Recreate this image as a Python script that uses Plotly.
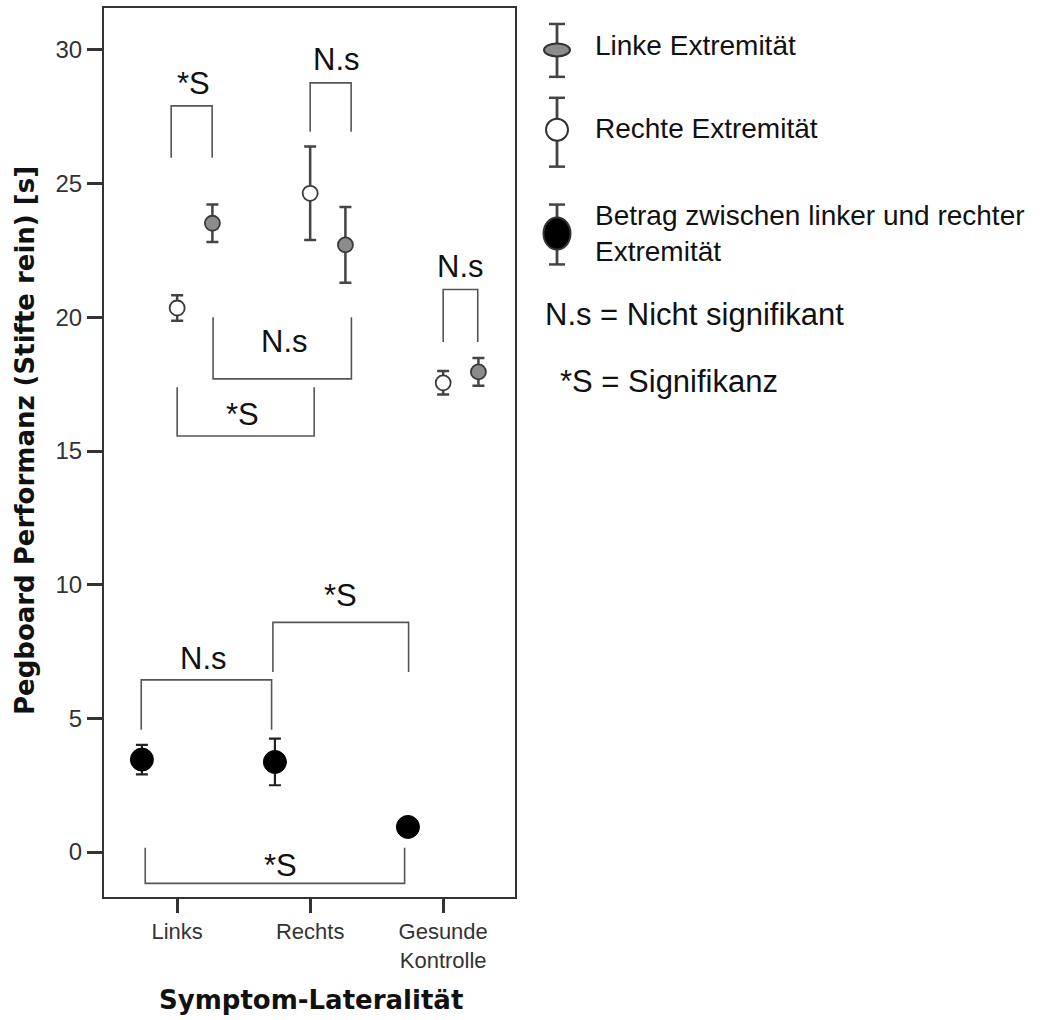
import plotly.graph_objects as go

# ---------------- data ----------------
categories = ["Links", "Rechts", "Gesunde<br>Kontrolle"]
cat_pos = [0, 1, 2]

series_names = ["Linke Extremität", "Rechte Extremität",
                "Betrag zwischen linker und rechter<br>Extremität"]

left_mean = [23.52, 22.71, 17.96]      # Linke Extremität (grey)
left_err = [0.70, 1.42, 0.52]
right_mean = [20.35, 24.64, 17.55]     # Rechte Extremität (white)
right_err = [0.48, 1.75, 0.44]
diff_mean = [3.46, 3.37, 0.94]         # Betrag (black)
diff_err = [0.55, 0.87, 0.15]

y_ticks = [0, 5, 10, 15, 20, 25, 30]

# significance brackets: x0, x1, bar y, leg end y, label, label x, label y
brackets = [
    (-0.045, 0.263, 27.91, 25.97, "*S", 0.12, 28.73),
    (1.0, 1.308, 28.77, 26.94, "N.s", 1.195, 29.66),
    (2.0, 2.26, 21.04, 19.08, "N.s", 2.13, 21.9),
    (0.27, 1.31, 17.7, 20.0, "N.s", 0.81, 19.1),
    (0.0, 1.03, 15.56, 17.39, "*S", 0.49, 16.38),
    (0.72, 1.74, 8.59, 6.74, "*S", 1.23, 9.59),
    (-0.27, 0.71, 6.44, 4.58, "N.s", 0.2, 7.24),
    (-0.24, 1.71, -1.17, 0.16, "*S", 0.78, -0.52),
]
legend_notes = ["N.s = Nicht signifikant", "*S = Signifikanz"]

OFFSET = 0.265
FONT = "Arial, Liberation Sans, sans-serif"
BOLD = "DejaVu Sans, Verdana, sans-serif"
EDGE = "#3a3a3a"
GREY = "#8c8c8c"

fig = go.Figure()

fig.add_trace(go.Scatter(
    x=[p - OFFSET for p in cat_pos], y=diff_mean, mode="markers",
    name=series_names[2],
    marker=dict(size=23, color="black", line=dict(color="black", width=1)),
    error_y=dict(type="data", array=diff_err, color="#222", thickness=2.2, width=6),
    showlegend=False))
fig.add_trace(go.Scatter(
    x=[p for p in cat_pos], y=right_mean, mode="markers",
    name=series_names[1],
    marker=dict(size=15, color="white", line=dict(color=EDGE, width=1.8)),
    error_y=dict(type="data", array=right_err, color="#444", thickness=2.5, width=6),
    showlegend=False))
fig.add_trace(go.Scatter(
    x=[p + OFFSET for p in cat_pos], y=left_mean, mode="markers",
    name=series_names[0],
    marker=dict(size=15, color=GREY, line=dict(color=EDGE, width=1.8)),
    error_y=dict(type="data", array=left_err, color="#444", thickness=2.5, width=6),
    showlegend=False))

shapes = []
annotations = []
for x0, x1, ybar, yleg, label, lx, ly in brackets:
    shapes.append(dict(
        type="path", xref="x", yref="y",
        path=f"M {x0},{yleg} L {x0},{ybar} L {x1},{ybar} L {x1},{yleg}",
        line=dict(color="#555", width=1.6)))
    annotations.append(dict(
        x=lx, y=ly, xref="x", yref="y", text=label, showarrow=False,
        font=dict(family=FONT, size=31, color="#111"),
        xanchor="center", yanchor="middle"))

# ---------- custom legend (paper coords) ----------
L, R, T, B = 104, 515, 6, 897
W, H = R - L, B - T


def px(xp):
    return (xp - L) / W


def py(yp):
    return (B - yp) / H


gx = 557
legend_glyphs = [
    # (bar top, bar bottom, centre y, marker w, marker h, fill)
    (22, 75, 48, 26, 13, GREY),
    (96, 165, 128, 22, 22, "white"),
    (203, 263, 232, 27, 32, "black"),
]
for top, bot, cy, mw, mh, fill in legend_glyphs:
    shapes.append(dict(type="line", xref="paper", yref="paper",
                       x0=px(gx), x1=px(gx), y0=py(top), y1=py(bot),
                       line=dict(color="#444", width=2.8)))
    for yy in (top, bot):
        shapes.append(dict(type="line", xref="paper", yref="paper",
                           x0=px(gx - 8), x1=px(gx + 8), y0=py(yy), y1=py(yy),
                           line=dict(color="#444", width=2.5)))
    shapes.append(dict(type="circle", xref="paper", yref="paper",
                       x0=px(gx - mw / 2), x1=px(gx + mw / 2),
                       y0=py(cy + mh / 2), y1=py(cy - mh / 2),
                       fillcolor=fill, line=dict(color="#333", width=2)))

legend_text_y = [44, 127, 232]
for name, yy in zip(series_names, legend_text_y):
    annotations.append(dict(
        x=px(593), y=py(yy), xref="paper", yref="paper", text=name,
        showarrow=False, xanchor="left", yanchor="middle", align="left",
        font=dict(family=FONT, size=28, color="#111")))

for note, xx, yy in zip(legend_notes, [543, 558], [313, 380]):
    annotations.append(dict(
        x=px(xx), y=py(yy), xref="paper", yref="paper", text=note,
        showarrow=False, xanchor="left", yanchor="middle",
        font=dict(family=FONT, size=31, color="#111")))

# axis titles
annotations.append(dict(
    x=px(311), y=py(1000), xref="paper", yref="paper",
    text="<b>Symptom-Lateralität</b>", showarrow=False,
    xanchor="center", yanchor="middle",
    font=dict(family=BOLD, size=26, color="#111")))
annotations.append(dict(
    x=px(25), y=py(440), xref="paper", yref="paper",
    text="<b>Pegboard Performanz (Stifte rein) [s]</b>", showarrow=False,
    textangle=-90, xanchor="center", yanchor="middle",
    font=dict(family=BOLD, size=26, color="#111")))

fig.update_layout(
    width=1051, height=1020,
    margin=dict(l=L, r=1051 - R, t=T, b=1020 - B),
    paper_bgcolor="white", plot_bgcolor="white",
    shapes=shapes, annotations=annotations,
    showlegend=False,
    xaxis=dict(range=[-0.55, 2.54], tickmode="array", tickvals=cat_pos,
               ticktext=categories, showgrid=False, zeroline=False,
               showline=True, mirror=True, linecolor="#333", linewidth=2,
               ticks="outside", ticklen=14, tickwidth=2.5, tickcolor="#333",
               tickfont=dict(family=FONT, size=22, color="#333")),
    yaxis=dict(range=[-1.68, 31.57], tickmode="array", tickvals=y_ticks,
               showgrid=False, zeroline=False,
               showline=True, mirror=True, linecolor="#333", linewidth=2,
               ticks="outside", ticklen=15, tickwidth=2.5, tickcolor="#333",
               tickfont=dict(family=FONT, size=24, color="#333")),
)

fig.write_html(
    "out.html",
    config={"displayModeBar": False},
    post_script="document.body.style.margin='0';document.body.style.overflow='hidden';")
